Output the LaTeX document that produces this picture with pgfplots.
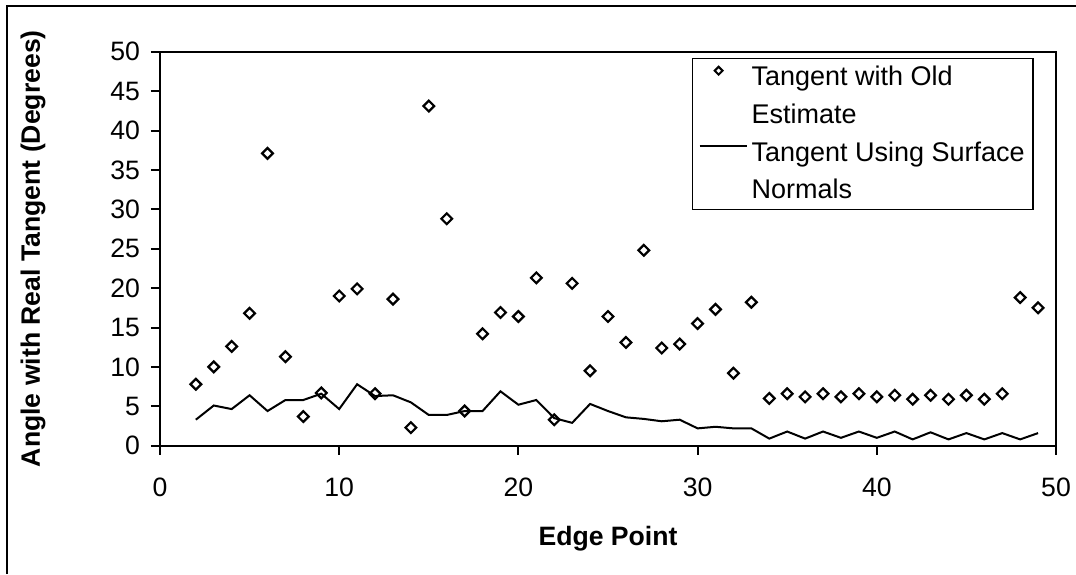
\documentclass[border=0pt]{standalone}
\usepackage{fontspec}
\setmainfont{Liberation Sans}
\usepackage{pgfplots}
\pgfplotsset{compat=1.18}

\begin{document}
\begin{tikzpicture}
% outer frame and page size (1px = 0.5pt)
\useasboundingbox (-80pt,-64.15pt) rectangle (458pt,222.85pt);
\draw[line width=1pt] (-76.5pt,-64.15pt) -- (-76.5pt,219.85pt) -- (458pt,219.85pt);
\begin{axis}[
  scale only axis,
  width=448pt, height=197pt,
  at={(0pt,0pt)}, anchor=south west,
  xmin=0, xmax=50, ymin=0, ymax=50,
  xtick={0,10,...,50}, ytick={0,5,...,50},
  tick align=outside,
  major tick length=4.5pt,
  x tick style={line width=1pt, black},
  y tick style={line width=1pt, black},
  xtick pos=bottom, ytick pos=left,
  axis line style={line width=1pt},
  font=\fontsize{13.3}{15}\selectfont,
  /pgf/number format/assume math mode=true,
  xticklabel style={yshift=-8pt},
  yticklabel style={xshift=-2pt},
  xlabel={\bfseries Edge Point},
  ylabel={\bfseries Angle with Real Tangent (Degrees)},
  xlabel style={at={(rel axis cs:0.5,0)}, anchor=center, yshift=-46.5pt},
  ylabel style={at={(rel axis cs:0,0.5)}, anchor=center, yshift=63.5pt},
  legend cell align=left,
  legend style={at={(0.975,0.985)}, anchor=north east, draw=black,
    line width=0.8pt, font=\fontsize{13.5}{15}\selectfont,
    inner xsep=2pt, inner ysep=2pt, row sep=3.5pt},
]
\addplot[only marks, mark=square, mark size=1.9pt,
  mark options={rotate=45, line width=1.1pt, fill=white, draw=black},
  legend image code/.code={\path[draw=none, fill=none] (0pt,0pt) -- (25pt,0pt);
    \path[draw=black, line width=1pt] plot[mark=square, mark size=1.4pt,
      mark options={rotate=45, fill=white}] coordinates {(11pt,0.35em)};}] coordinates {
  (2,7.8) (3,10.0) (4,12.6) (5,16.8) (6,37.1) (7,11.3) (8,3.7) (9,6.7)
  (10,19.0) (11,19.9) (12,6.6) (13,18.6) (14,2.3) (15,43.1) (16,28.8)
  (17,4.4) (18,14.2) (19,16.9) (20,16.4) (21,21.3) (22,3.3) (23,20.6)
  (24,9.5) (25,16.4) (26,13.1) (27,24.8) (28,12.4) (29,12.9) (30,15.5)
  (31,17.3) (32,9.2) (33,18.2) (34,6.0) (35,6.6) (36,6.2) (37,6.6)
  (38,6.2) (39,6.6) (40,6.2) (41,6.4) (42,5.9) (43,6.4) (44,5.9)
  (45,6.4) (46,5.9) (47,6.6) (48,18.8) (49,17.5)
};
\addlegendentry{Tangent with Old}
\addlegendimage{empty legend}
\addlegendentry{Estimate}
\addplot[black, line width=1pt, mark=none,
  legend image code/.code={\draw[black, line width=1pt] (1.5pt,0.35em) -- (25pt,0.35em);}] coordinates {
  (2,3.3) (3,5.1) (4,4.65) (5,6.4) (6,4.4) (7,5.8) (8,5.8) (9,6.6)
  (10,4.65) (11,7.8) (12,6.3) (13,6.4) (14,5.5) (15,3.9) (16,3.9)
  (17,4.4) (18,4.4) (19,6.9) (20,5.2) (21,5.8) (22,3.5) (23,2.9)
  (24,5.3) (25,4.4) (26,3.6) (27,3.4) (28,3.1) (29,3.3) (30,2.2)
  (31,2.4) (32,2.2) (33,2.2) (34,0.9) (35,1.8) (36,0.9) (37,1.8)
  (38,1.0) (39,1.8) (40,1.0) (41,1.8) (42,0.8) (43,1.7) (44,0.8)
  (45,1.6) (46,0.8) (47,1.6) (48,0.8) (49,1.6)
};
\addlegendentry{Tangent Using Surface}
\addlegendimage{empty legend}
\addlegendentry{Normals}
\end{axis}
\end{tikzpicture}
\end{document}
